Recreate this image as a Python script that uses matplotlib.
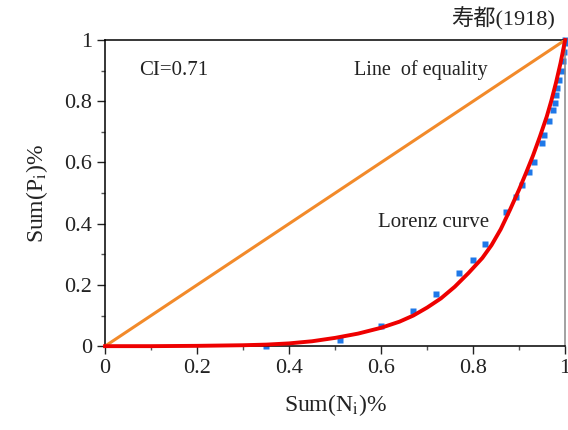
import matplotlib.pyplot as plt
from matplotlib.ticker import MultipleLocator

plt.rcParams['font.family'] = ['Liberation Serif', 'Noto Sans CJK SC']
plt.rcParams['mathtext.fontset'] = 'stix'

# -------- DATA --------
# observed cumulative points
obs_x = [0.35, 0.51, 0.60, 0.67, 0.72, 0.77, 0.80, 0.826, 0.872, 0.893, 0.907,
         0.922, 0.933, 0.95, 0.954, 0.965, 0.974, 0.978, 0.98, 0.983, 0.987,
         0.993, 0.996, 0.997, 1.0, 1.0]
obs_y = [0.0, 0.02, 0.065, 0.115, 0.17, 0.24, 0.28, 0.333, 0.438, 0.487, 0.526,
         0.569, 0.60, 0.663, 0.69, 0.735, 0.77, 0.794, 0.82, 0.843, 0.87,
         0.90, 0.93, 0.96, 0.99, 1.0]

# fitted Lorenz curve
fit_x = [0.0, 0.1, 0.2, 0.3, 0.35, 0.4, 0.45, 0.5, 0.55, 0.6, 0.64, 0.67, 0.70,
         0.73, 0.76, 0.79, 0.82, 0.84, 0.86, 0.88, 0.90, 0.915, 0.93, 0.945,
         0.96, 0.97, 0.98, 0.99, 1.0]
fit_y = [0.0, 0.0, 0.001, 0.003, 0.005, 0.009, 0.016, 0.027, 0.041, 0.06, 0.08,
         0.10, 0.126, 0.156, 0.194, 0.239, 0.288, 0.33, 0.382, 0.445, 0.512,
         0.566, 0.622, 0.684, 0.75, 0.802, 0.86, 0.925, 1.0]

# line of equality
eq_x = [0, 1]
eq_y = [0, 1]

ci_value = 0.71
title = "寿都(1918)"
ticks = [0, 0.2, 0.4, 0.6, 0.8, 1]
tick_labels = ['0', '0.2', '0.4', '0.6', '0.8', '1']

# -------- PLOT --------
fig = plt.figure(figsize=(5.68, 4.30), dpi=100)
ax = fig.add_axes([0.185, 0.195, 0.81, 0.712])

ax.plot(obs_x, obs_y, 's', color='#1f78e8', ms=5, mec='none', clip_on=False, zorder=2)
ax.plot(eq_x, eq_y, color='#f28a2a', lw=2.2, zorder=3)
ax.plot(fit_x, fit_y, color='#ee0000', lw=2.8, zorder=4, clip_on=False,
        solid_joinstyle='round')

ax.set_xlim(0, 1)
ax.set_ylim(0, 1)
ax.set_xticks(ticks)
ax.set_yticks(ticks)
ax.set_xticklabels(tick_labels)
ax.set_yticklabels(tick_labels)
ax.xaxis.set_minor_locator(MultipleLocator(0.1))
ax.yaxis.set_minor_locator(MultipleLocator(0.1))
ax.tick_params(which='major', direction='out', length=6, width=1, labelsize=16, colors='#222222')
ax.tick_params(which='minor', direction='out', length=3, width=1, colors='#555555')
for s in ax.spines.values():
    s.set_linewidth(1.1)
ax.spines['right'].set_color('#888888')

ax.set_xlabel('Sum(N$_{\\rm i}$)%', fontsize=17, color='#222222', labelpad=10)
ax.set_ylabel('Sum(P$_{\\rm i}$)%', fontsize=17, color='#222222', labelpad=10)

ax.text(0.075, 0.885, 'CI=%.2f' % ci_value, transform=ax.transAxes, fontsize=15,
        color='#222222')
ax.text(0.54, 0.885, 'Line  of equality', transform=ax.transAxes, fontsize=14.5,
        color='#222222')
ax.text(0.593, 0.39, 'Lorenz curve', transform=ax.transAxes, fontsize=15,
        color='#222222')
ax.text(0.978, 1.03, title, transform=ax.transAxes, fontsize=16, ha='right',
        va='bottom', color='#222222')

fig.savefig('out.png', dpi=100)
